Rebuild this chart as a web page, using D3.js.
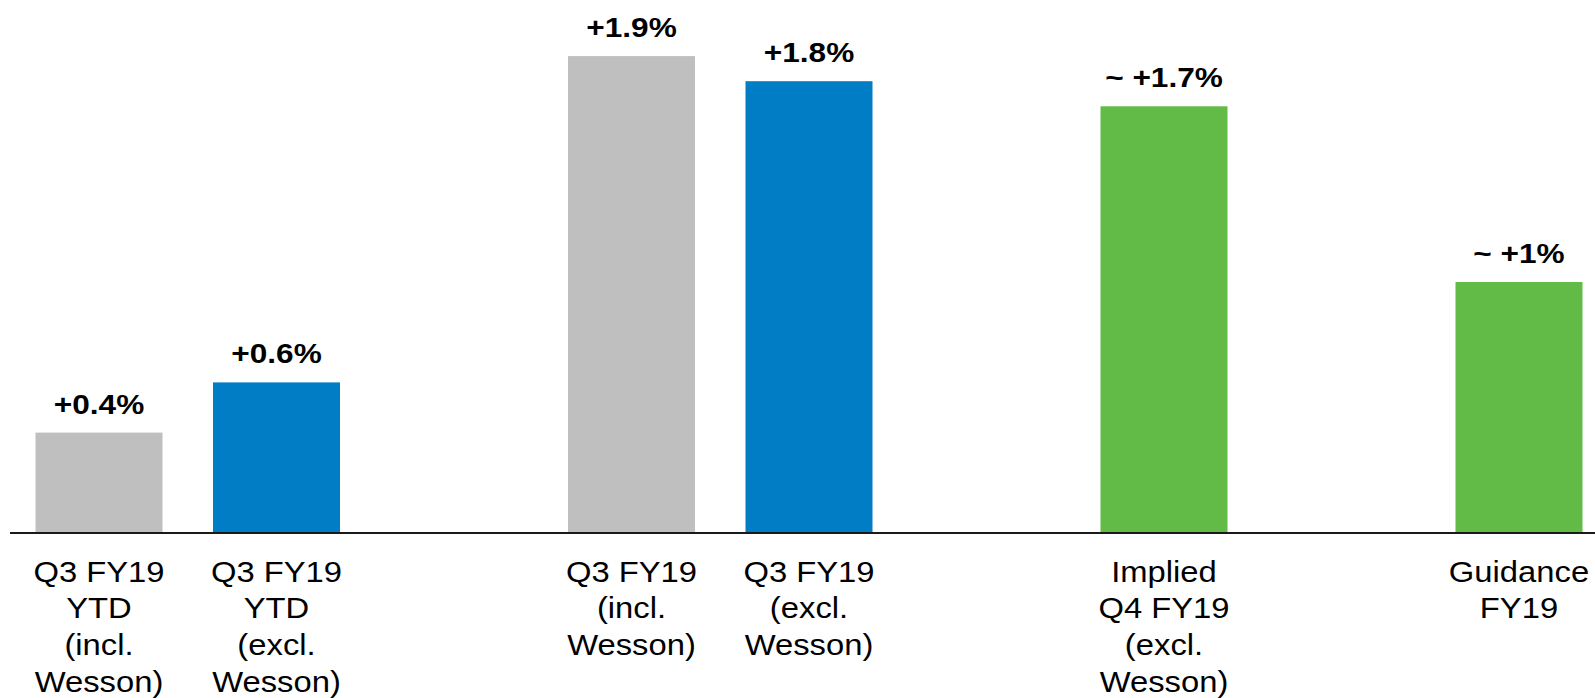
<!DOCTYPE html>
<html>
<head>
<meta charset="utf-8">
<script src="https://cdn.jsdelivr.net/npm/d3@7"></script>
<style>
  html, body { margin: 0; padding: 0; background: #ffffff; }
  svg { display: block; }
  text { font-family: "Liberation Sans", Arial, sans-serif; fill: #000000; }
</style>
</head>
<body>
<svg id="chart" width="1595" height="698"></svg>
<script>
// Slots along the x axis; "gap" slots stay empty to separate the groups
const slots = ["ytdIncl", "ytdExcl", "gap1", "q3Incl", "q3Excl", "gap2", "q4Implied", "gap3", "guidance"];

const categories = ["ytdIncl", "ytdExcl", "q3Incl", "q3Excl", "q4Implied", "guidance"];
const categoryLabels = [
  ["Q3 FY19", "YTD", "(incl.", "Wesson)"],
  ["Q3 FY19", "YTD", "(excl.", "Wesson)"],
  ["Q3 FY19", "(incl.", "Wesson)"],
  ["Q3 FY19", "(excl.", "Wesson)"],
  ["Implied", "Q4 FY19", "(excl.", "Wesson)"],
  ["Guidance", "FY19"]
];
const values = [0.4, 0.6, 1.9, 1.8, 1.7, 1.0];
const valueLabels = ["+0.4%", "+0.6%", "+1.9%", "+1.8%", "~ +1.7%", "~ +1%"];
const kinds = ["incl", "excl", "incl", "excl", "outlook", "outlook"];

const colorScale = d3.scaleOrdinal()
  .domain(["incl", "excl", "outlook"])
  .range(["#bfbfbf", "#007dc5", "#62bb46"]);

const svg = d3.select("#chart");

const baseY = 533;
const x = d3.scaleBand()
  .domain(slots)
  .range([35.5, 1582.5])
  .paddingInner(0.2845)
  .paddingOuter(0);

const y = d3.scaleLinear()
  .domain([0, 1])
  .range([baseY, baseY - 251]);

const data = categories.map((c, i) => ({
  key: c, value: values[i], label: valueLabels[i], lines: categoryLabels[i], kind: kinds[i]
}));

// Bars
svg.append("g").selectAll("rect")
  .data(data)
  .join("rect")
  .attr("x", d => x(d.key))
  .attr("width", x.bandwidth())
  .attr("y", d => y(d.value))
  .attr("height", d => y(0) - y(d.value))
  .attr("fill", d => colorScale(d.kind));

// Baseline axis
svg.append("line")
  .attr("x1", 10).attr("x2", 1595)
  .attr("y1", baseY).attr("y2", baseY)
  .attr("stroke", "#1a1a1a")
  .attr("stroke-width", 2);

// Value labels above bars
svg.append("g").selectAll("text")
  .data(data)
  .join("text")
  .attr("transform", d => `translate(${x(d.key) + x.bandwidth() / 2},${y(d.value) - 19}) scale(1.17,1)`)
  .attr("text-anchor", "middle")
  .attr("font-weight", "bold")
  .attr("font-size", 27)
  .text(d => d.label);

// Category labels under the axis
const catG = svg.append("g").selectAll("g")
  .data(data)
  .join("g")
  .attr("transform", d => `translate(${x(d.key) + x.bandwidth() / 2},0)`);

catG.selectAll("text")
  .data(d => d.lines)
  .join("text")
  .attr("transform", (d, i) => `translate(0,${581.5 + i * 36.7}) scale(1.13,1)`)
  .attr("text-anchor", "middle")
  .attr("font-size", 29)
  .text(d => d);
</script>
</body>
</html>
